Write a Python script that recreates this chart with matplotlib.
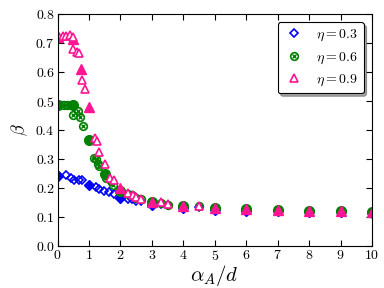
import numpy as np
import matplotlib
matplotlib.use('Agg')
import matplotlib.pyplot as plt
from matplotlib.legend_handler import HandlerTuple

plt.rcParams['font.family'] = 'serif'
plt.rcParams['font.serif'] = ['cmr10']
plt.rcParams['mathtext.fontset'] = 'cm'
plt.rcParams['axes.formatter.use_mathtext'] = True

# eta = 0.3
x03_open = [0.04, 0.27, 0.43, 0.53, 0.69, 0.78, 1.22, 1.33, 1.49, 1.65, 1.78, 2.23, 2.37, 2.5, 2.65, 3.3, 3.5, 4.5]
y03_open = [0.242, 0.244, 0.235, 0.229, 0.227, 0.226, 0.204, 0.198, 0.191, 0.186, 0.178, 0.163, 0.161, 0.156, 0.155, 0.145, 0.142, 0.133]
x03_fill = [0, 1, 2, 3, 4, 5, 6, 7, 8, 9, 10]
y03_fill = [0.242, 0.212, 0.166, 0.143, 0.13, 0.124, 0.121, 0.119, 0.117, 0.116, 0.114]

# eta = 0.6
x06_open = [0.21, 0.29, 0.42, 0.48, 0.66, 0.72, 0.8, 1.17, 1.22, 1.28, 1.31, 1.54, 1.7, 1.75, 2.23, 2.37, 2.5, 2.65, 3.3, 3.5, 4.5]
y06_open = [0.487, 0.487, 0.485, 0.453, 0.465, 0.445, 0.415, 0.304, 0.3, 0.284, 0.275, 0.235, 0.223, 0.212, 0.18, 0.176, 0.167, 0.162, 0.148, 0.143, 0.137]
x06_fill = [0, 0.5, 1, 1.5, 2, 3, 4, 5, 6, 7, 8, 9, 10]
y06_fill = [0.485, 0.485, 0.367, 0.247, 0.19, 0.15, 0.138, 0.13, 0.127, 0.124, 0.121, 0.12, 0.118]

# eta = 0.9
x09_open = [0.06, 0.16, 0.27, 0.38, 0.48, 0.5, 0.63, 0.69, 0.76, 0.88, 1.2, 1.25, 1.33, 1.52, 1.67, 1.78, 2.23, 2.4, 2.5, 2.65, 3.3, 3.5, 4.5]
y09_open = [0.722, 0.725, 0.725, 0.727, 0.722, 0.68, 0.67, 0.665, 0.572, 0.543, 0.373, 0.362, 0.323, 0.284, 0.235, 0.226, 0.183, 0.176, 0.168, 0.162, 0.15, 0.145, 0.137]
x09_fill = [0, 0.5, 0.75, 1, 2, 3, 4, 5, 6, 7, 8, 9, 10]
y09_fill = [0.72, 0.715, 0.611, 0.48, 0.2, 0.153, 0.138, 0.13, 0.127, 0.124, 0.121, 0.12, 0.118]

blue = '#0000ff'
green = '#008000'
pink = '#ff1493'

fig = plt.figure(figsize=(3.84, 2.88), dpi=100)
ax = fig.add_axes([0.15, 0.146, 0.819, 0.805])

# filled (large) markers
ax.plot(x03_fill, y03_fill, 'D', ms=5.5, color=blue, mec=blue, ls='none')
# open markers
h1, = ax.plot(x03_open, y03_open, 'D', ms=4, mfc='none', mec=blue, mew=1.2, ls='none')

ax.plot(x06_fill, y06_fill, 'o', ms=7, color=green, mec=green, ls='none')
h2a, = ax.plot(x06_open, y06_open, 'o', ms=5.5, mfc='none', mec=green, mew=1.2, ls='none')
h2b, = ax.plot(x06_open, y06_open, 'x', ms=3.5, mec=green, mew=1.0, ls='none')

ax.plot(x09_fill, y09_fill, '^', ms=7, color=pink, mec=pink, ls='none')
h3, = ax.plot(x09_open, y09_open, '^', ms=5.5, mfc='white', mec=pink, mew=1.2, ls='none')

ax.set_xlim(0, 10)
ax.set_ylim(0, 0.8)
ax.set_xticks(np.arange(0, 11, 1))
ax.set_yticks(np.arange(0, 0.81, 0.1))
ax.tick_params(direction='in', top=True, right=True, labelsize=10, length=4, pad=2)
ax.set_xlabel(r'$\alpha_A/d$', fontsize=15, labelpad=0)
ax.set_ylabel(r'$\beta$', fontsize=13, labelpad=4)

leg = ax.legend([h1, (h2a, h2b), h3], [r'$\eta=0.3$', r'$\eta=0.6$', r'$\eta=0.9$'],
                handler_map={tuple: HandlerTuple(ndivide=1)},
                loc='upper right', fontsize=10, numpoints=1, shadow=True,
                fancybox=True, framealpha=1, edgecolor='black',
                handlelength=1.5, handletextpad=0.9, borderaxespad=0.6)
leg.get_frame().set_linewidth(0.8)

fig.savefig('out.png', dpi=100)
